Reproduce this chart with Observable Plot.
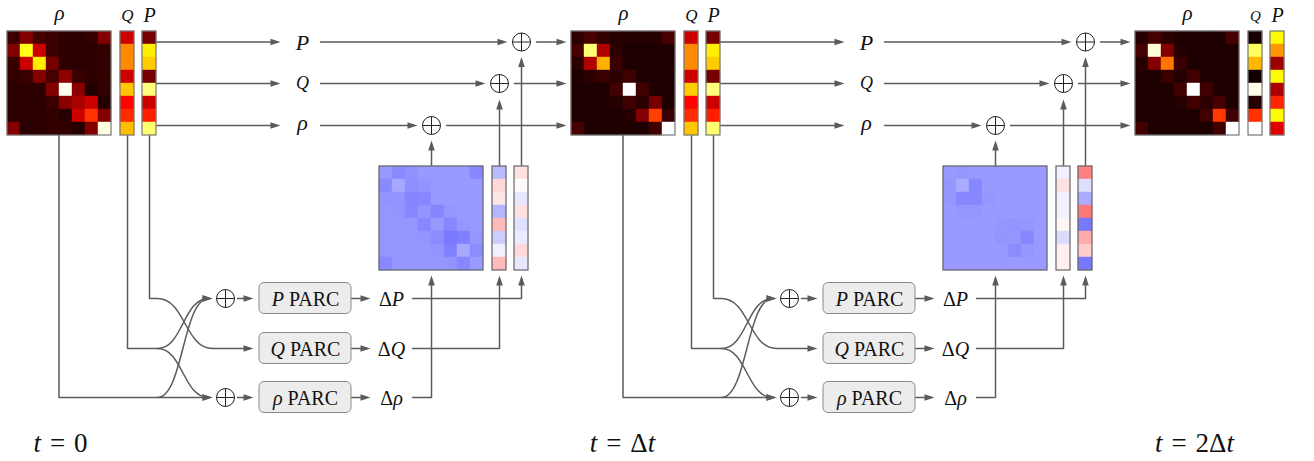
<!DOCTYPE html>
<html><head><meta charset="utf-8">
<script src="https://cdn.jsdelivr.net/npm/d3@7"></script>
<script src="https://cdn.jsdelivr.net/npm/@observablehq/plot@0.6"></script>
<style>
html,body{margin:0;padding:0;background:#fff;}
#wrap{position:relative;width:1314px;height:461px;overflow:hidden;}
#wrap svg{position:absolute;left:0;top:0;}
#wrap svg text{font-family:"Liberation Serif","DejaVu Serif",serif;}
</style></head><body><div id="wrap"></div>
<script>
// ---------------- data: density / momentum states (hot colormap, 0..1) ----------------
const rho0 = [
 [0.07,0.18,0.09,0.07,0.05,0.05,0.06,0.18],
 [0.18,0.77,0.29,0.07,0.05,0.05,0.05,0.06],
 [0.07,0.29,0.72,0.16,0.05,0.05,0.05,0.06],
 [0.06,0.07,0.18,0.09,0.20,0.07,0.05,0.06],
 [0.05,0.05,0.05,0.18,0.98,0.19,0.03,0.06],
 [0.05,0.05,0.05,0.07,0.19,0.24,0.29,0.04],
 [0.05,0.05,0.05,0.06,0.04,0.29,0.44,0.18],
 [0.18,0.05,0.05,0.06,0.06,0.04,0.18,0.97]];
const Q0 = [0.29,0.57,0.57,0.29,0.66,0.37,0.43,0.65];
const P0 = [0.16,0.72,0.67,0.16,0.87,0.29,0.41,0.86];

const rho1 = [
 [0.05,0.09,0.06,0.04,0.04,0.04,0.04,0.09],
 [0.09,0.86,0.25,0.05,0.03,0.03,0.03,0.03],
 [0.05,0.25,0.63,0.07,0.03,0.03,0.03,0.03],
 [0.03,0.05,0.07,0.05,0.08,0.03,0.03,0.03],
 [0.03,0.03,0.03,0.08,1.00,0.08,0.03,0.03],
 [0.03,0.03,0.03,0.04,0.08,0.05,0.16,0.03],
 [0.03,0.03,0.03,0.03,0.04,0.18,0.46,0.07],
 [0.09,0.03,0.03,0.03,0.03,0.03,0.08,1.00]];
const Q1 = [0.29,0.57,0.57,0.29,0.67,0.37,0.43,0.66];
const P1 = [0.16,0.72,0.67,0.16,0.87,0.29,0.41,0.86];

const rho2 = [
 [0.04,0.09,0.05,0.03,0.03,0.03,0.03,0.09],
 [0.09,0.96,0.18,0.04,0.03,0.03,0.03,0.03],
 [0.04,0.18,0.54,0.07,0.03,0.03,0.03,0.03],
 [0.03,0.03,0.07,0.04,0.08,0.03,0.03,0.03],
 [0.03,0.03,0.03,0.08,1.00,0.08,0.03,0.03],
 [0.03,0.03,0.03,0.04,0.08,0.05,0.09,0.03],
 [0.03,0.03,0.03,0.03,0.03,0.08,0.45,0.08],
 [0.08,0.03,0.03,0.03,0.03,0.03,0.08,1.00]];
const Q2 = [0.02,0.84,0.64,0.01,0.98,0.04,0.44,1.00];
const P2 = [0.74,0.59,0.22,0.74,0.24,0.42,0.74,0.32];

// ---------------- data: PARC updates (bwr colormap, -1..1) ----------------
const M0 = [
 [-0.40,-0.46,-0.43,-0.40,-0.40,-0.40,-0.40,-0.47],
 [-0.46,-0.34,-0.44,-0.42,-0.40,-0.40,-0.40,-0.40],
 [-0.42,-0.42,-0.48,-0.47,-0.40,-0.40,-0.40,-0.40],
 [-0.41,-0.42,-0.47,-0.42,-0.48,-0.41,-0.40,-0.40],
 [-0.41,-0.41,-0.41,-0.47,-0.40,-0.47,-0.41,-0.40],
 [-0.41,-0.41,-0.41,-0.42,-0.45,-0.52,-0.50,-0.41],
 [-0.41,-0.41,-0.41,-0.41,-0.42,-0.50,-0.34,-0.45],
 [-0.47,-0.41,-0.41,-0.41,-0.41,-0.42,-0.47,-0.40]];
const dQ0 = [-0.27,0.15,0.10,-0.29,0.27,-0.20,-0.06,0.27];
const dP0 = [0.12,0.02,-0.10,0.12,-0.12,-0.08,0.15,-0.09];

const M1 = [
 [-0.40,-0.41,-0.40,-0.40,-0.40,-0.40,-0.40,-0.40],
 [-0.41,-0.33,-0.47,-0.40,-0.40,-0.40,-0.40,-0.40],
 [-0.41,-0.47,-0.47,-0.41,-0.40,-0.40,-0.40,-0.40],
 [-0.40,-0.41,-0.41,-0.40,-0.40,-0.40,-0.40,-0.40],
 [-0.40,-0.40,-0.40,-0.40,-0.41,-0.42,-0.41,-0.40],
 [-0.40,-0.40,-0.40,-0.40,-0.42,-0.41,-0.47,-0.40],
 [-0.40,-0.40,-0.40,-0.40,-0.40,-0.45,-0.41,-0.40],
 [-0.40,-0.40,-0.40,-0.40,-0.40,-0.40,-0.40,-0.40]];
const dQ1 = [-0.06,0.12,-0.06,-0.05,0.04,-0.14,0.06,0.06];
const dP1 = [0.50,-0.13,-0.33,0.53,-0.53,0.33,0.20,-0.53];

// ---------------- labels ----------------
const matLabels = ["ρ", "Q", "P"];
const rowLabels = ["P", "Q", "ρ"];
const G = 0.33; // em gap around "="
const timeLabels = [
 [["t",1],G,["=",0],G,["0",0]],
 [["t",1],G,["=",0],G,["Δ",0],["t",1]],
 [["t",1],G,["=",0],G,["2Δ",0],["t",1]]];
const parcLabels = [[["P",1],0.25,["PARC",0]], [["Q",1],0.25,["PARC",0]], [["ρ",1],0.25,["PARC",0]]];
const deltaLabels = [[["Δ",0],["P",1]], [["Δ",0],["Q",1]], [["Δ",0],["ρ",1]]];

// ---------------- layout ----------------
const W = 1314, H = 461, STAGE = 564, CELL = 13, VW = 14;
const HEAT = {mx: 7, top: 31, qx: 120, px: 142};
const BLUE = {mx: 379, top: 166, ax: 492, bx: 514};
const ROWY = [41.5, 83, 125];           // P, Q, rho rows at top
const OPX = [521, 499, 431];            // oplus x for P, Q, rho
const DROWY = [298, 348, 397];          // P, Q, rho PARC rows
const TIME_X = [60, 622, 1194];
const LINE = "#5b5b5b";
const FONT = '"Liberation Serif", "DejaVu Serif", serif';

const states = [{rho: rho0, Q: Q0, P: P0}, {rho: rho1, Q: Q1, P: P1}, {rho: rho2, Q: Q2, P: P2}];
const updates = [{M: M0, a: dQ0, b: dP0}, {M: M1, a: dQ1, b: dP1}];

const matCells = (m, x0, y0) => m.flatMap((row, i) => row.map((v, j) => ({x1: x0 + j*CELL, x2: x0 + (j+1)*CELL, y1: y0 + i*CELL, y2: y0 + (i+1)*CELL, v})));
const vecCells = (a, x0, y0) => a.map((v, i) => ({x1: x0, x2: x0 + VW, y1: y0 + i*CELL, y2: y0 + (i+1)*CELL, v}));

const hotCells = [], hotFrames = [], blueCells = [], blueFrames = [];
states.forEach((st, s) => {
  const o = s*STAGE;
  hotCells.push(...matCells(st.rho, HEAT.mx + o, HEAT.top), ...vecCells(st.Q, HEAT.qx + o, HEAT.top), ...vecCells(st.P, HEAT.px + o, HEAT.top));
  hotFrames.push({x1: HEAT.mx + o, x2: HEAT.mx + o + 8*CELL, y1: HEAT.top, y2: HEAT.top + 8*CELL},
                 {x1: HEAT.qx + o, x2: HEAT.qx + o + VW, y1: HEAT.top, y2: HEAT.top + 8*CELL},
                 {x1: HEAT.px + o, x2: HEAT.px + o + VW, y1: HEAT.top, y2: HEAT.top + 8*CELL});
});
updates.forEach((u, s) => {
  const o = s*STAGE;
  blueCells.push(...matCells(u.M, BLUE.mx + o, BLUE.top), ...vecCells(u.a, BLUE.ax + o, BLUE.top), ...vecCells(u.b, BLUE.bx + o, BLUE.top));
  blueFrames.push({x1: BLUE.mx + o, x2: BLUE.mx + o + 8*CELL, y1: BLUE.top, y2: BLUE.top + 8*CELL},
                  {x1: BLUE.ax + o, x2: BLUE.ax + o + VW, y1: BLUE.top, y2: BLUE.top + 8*CELL},
                  {x1: BLUE.bx + o, x2: BLUE.bx + o + VW, y1: BLUE.top, y2: BLUE.top + 8*CELL});
});

// ---------------- connectors ----------------
const polys = [], heads = [], curves = [], oplus = [], boxes = [];
let pid = 0;
function poly(pts, head) {
  const id = pid++, p = pts.map(d => d.slice());
  if (head) {
    const [xa, ya] = p[p.length-2], [xb, yb] = p[p.length-1];
    const a = Math.atan2(yb - ya, xb - xa);
    heads.push({x: xb, y: yb, rot: a*180/Math.PI});
    p[p.length-1] = [xb - 4*Math.cos(a), yb - 4*Math.sin(a)];
  }
  p.forEach(([x, y]) => polys.push({id, x, y}));
}
function bump(x1, y1, x2, y2, head) {
  if (head) { heads.push({x: x2, y: y2, rot: 0}); curves.push({x1, y1, x2: x2 - 4, y2}); }
  else curves.push({x1, y1, x2, y2});
}
const R = 9;
[0, 1].forEach(s => {
  const o = s*STAGE;
  const vecBottom = HEAT.top + 8*CELL, blueTop = BLUE.top, blueBottom = BLUE.top + 8*CELL;
  const rightEdge = HEAT.px + VW + o, nextLeft = HEAT.mx + STAGE + o;
  ROWY.forEach((y, k) => {
    poly([[rightEdge, y], [280 + o, y]], true);
    poly([[320 + o, y], [OPX[k] + o - R - 5, y]], true);
    poly([[OPX[k] + o + R + 6, y], [nextLeft - 5, y]], true);
    oplus.push({x: OPX[k] + o, y});
  });
  poly([[OPX[2] + o, blueTop], [OPX[2] + o, ROWY[2] + R + 6]], true);
  poly([[BLUE.ax + VW/2 + o, blueTop], [BLUE.ax + VW/2 + o, ROWY[1] + R + 7]], true);
  poly([[BLUE.bx + VW/2 + o, blueTop], [BLUE.bx + VW/2 + o, ROWY[0] + R + 6]], true);
  const xr = HEAT.mx + 4*CELL + o - 0.5, xq = HEAT.qx + VW/2 + o, xp = HEAT.px + VW/2 + o;
  const [yp, yq, yr] = DROWY, xs = 157 + o, xe = 212 + o;
  poly([[xp, vecBottom], [xp, yp], [xs, yp]], false);
  bump(xs, yp, xe, yq, false);
  poly([[xe, yq], [253 + o, yq]], true);
  poly([[xq, vecBottom], [xq, yq], [xs, yq]], false);
  bump(xs, yq, xe, yp, true);
  bump(xs, yq, xe, yr, true);
  poly([[xr, vecBottom], [xr, yr], [xe, yr]], true);
  bump(xs, yr, xe, yp, true);
  oplus.push({x: 225 + o, y: yp}, {x: 225 + o, y: yr});
  poly([[237 + o, yp], [253 + o, yp]], true);
  poly([[237 + o, yr], [253 + o, yr]], true);
  DROWY.forEach(y => {
    boxes.push({x1: 259 + o, x2: 351 + o, y1: y - 15.5, y2: y + 15.5});
    poly([[351 + o, y], [370 + o, y]], true);
  });
  poly([[412 + o, yp], [BLUE.bx + VW/2 + o, yp], [BLUE.bx + VW/2 + o, blueBottom + 5]], true);
  poly([[412 + o, yq], [BLUE.ax + VW/2 + o, yq], [BLUE.ax + VW/2 + o, blueBottom + 5]], true);
  poly([[412 + o, yr], [OPX[2] + o, yr], [OPX[2] + o, blueBottom + 5]], true);
});
const crosses = oplus.flatMap(d => [{x1: d.x - R, y1: d.y, x2: d.x + R, y2: d.y}, {x1: d.x, y1: d.y - R, x2: d.x, y2: d.y + R}]);

// ---------------- text ----------------
const ctx = document.createElement("canvas").getContext("2d");
function measure(s, it, size) { ctx.font = `${it ? "italic " : ""}${size}px ${FONT}`; return ctx.measureText(s).width; }
function rich(pieces, cx, y, size) {
  const w = pieces.map(p => typeof p === "number" ? p*size : measure(p[0], p[1], size));
  let x = cx - d3.sum(w)/2;
  const out = [];
  pieces.forEach((p, k) => { if (typeof p !== "number") out.push({x, y, s: p[0], it: p[1], size}); x += w[k]; });
  return out;
}
const texts = [];
[0, 1, 2].forEach(s => {
  const o = s*STAGE;
  texts.push(...rich([[matLabels[0], 1]], HEAT.mx + 4*CELL + o, 19, 21));
  texts.push(...rich([[matLabels[1], 1]], HEAT.qx + VW/2 + o, 20, s === 2 ? 15 : 17));
  texts.push(...rich([[matLabels[2], 1]], HEAT.px + VW/2 + o, 21.5, 20));
  texts.push(...rich(timeLabels[s], TIME_X[s], 451, 27));
  if (s < 2) {
    const sizes = [22, 18, 22], base = [49, 88, 129];
    rowLabels.forEach((t, k) => texts.push(...rich([[t, 1]], 302 + o, base[k], sizes[k])));
    parcLabels.forEach((p, k) => texts.push(...rich(p, 305 + o, DROWY[k] + 7, 20)));
    deltaLabels.forEach((p, k) => texts.push(...rich(p, 391 + o, DROWY[k] + 7, 20)));
  }
});

const arrowHead = {draw(c) { c.moveTo(0, 0); c.lineTo(-10, -3.3); c.lineTo(-10, 3.3); c.closePath(); }};

const frame = {width: W, height: H, margin: 0,
  x: {domain: [0, W], range: [0, W], axis: null},
  y: {domain: [0, H], range: [0, H], axis: null},
  style: {background: "transparent", overflow: "visible"}};

const main = Plot.plot({...frame,
  color: {type: "linear", domain: [0, 0.365, 0.746, 1], range: ["#0b0000", "#ff0000", "#ffff00", "#ffffff"], interpolate: "rgb"},
  marks: [
    Plot.line(polys, {x: "x", y: "y", z: "id", stroke: LINE, strokeWidth: 1.5}),
    Plot.link(curves, {x1: "x1", y1: "y1", x2: "x2", y2: "y2", curve: "bump-x", stroke: LINE, strokeWidth: 1.5}),
    Plot.dot(heads, {x: "x", y: "y", rotate: "rot", symbol: arrowHead, fill: LINE, stroke: "none", r: 4}),
    Plot.dot(oplus, {x: "x", y: "y", r: R, fill: "white", stroke: "#222", strokeWidth: 1}),
    Plot.link(crosses, {x1: "x1", y1: "y1", x2: "x2", y2: "y2", stroke: "#222", strokeWidth: 1}),
    Plot.rect(boxes, {x1: "x1", x2: "x2", y1: "y1", y2: "y2", rx: 5, fill: "#ececec", stroke: "#8a8a8a", strokeWidth: 1}),
    Plot.rect(hotCells, {x1: "x1", x2: "x2", y1: "y1", y2: "y2", fill: "v", stroke: "v", strokeWidth: 0.4}),
    Plot.rect(hotFrames, {x1: "x1", x2: "x2", y1: "y1", y2: "y2", fill: "none", stroke: "#777", strokeWidth: 1.2}),
    Plot.text(texts.filter(d => d.it), {x: "x", y: "y", text: "s", fontSize: "size", textAnchor: "start", lineAnchor: "bottom", fontFamily: FONT, fontStyle: "italic", fill: "#111"}),
    Plot.text(texts.filter(d => !d.it), {x: "x", y: "y", text: "s", fontSize: "size", textAnchor: "start", lineAnchor: "bottom", fontFamily: FONT, fill: "#111"})
  ]});

const overlay = Plot.plot({...frame,
  color: {type: "linear", domain: [-1, 0, 1], range: ["#0000ff", "#ffffff", "#ff0000"], interpolate: "rgb"},
  marks: [
    Plot.rect(blueCells, {x1: "x1", x2: "x2", y1: "y1", y2: "y2", fill: "v", stroke: "v", strokeWidth: 0.4}),
    Plot.rect(blueFrames, {x1: "x1", x2: "x2", y1: "y1", y2: "y2", fill: "none", stroke: "#666", strokeWidth: 1.2})
  ]});

const wrap = document.getElementById("wrap");
wrap.appendChild(main);
wrap.appendChild(overlay);
</script></body></html>
